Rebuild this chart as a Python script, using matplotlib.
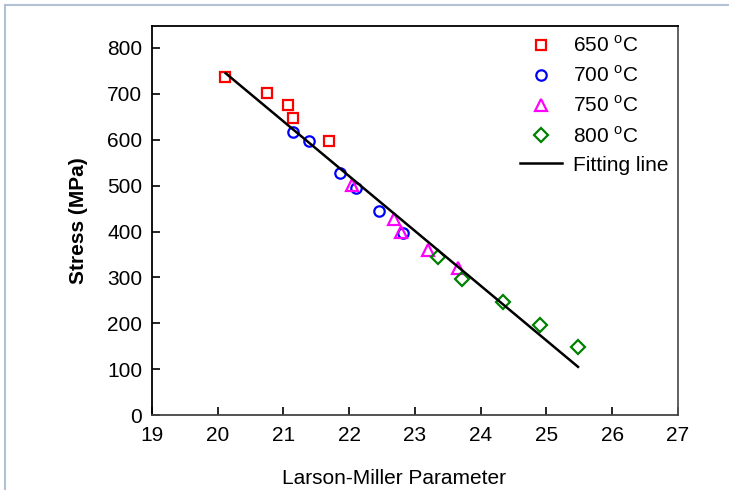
import matplotlib
matplotlib.use("Agg")
from matplotlib import pyplot as plt
from matplotlib.lines import Line2D

plt.rcParams['font.family'] = ['Liberation Sans', 'DejaVu Sans']

# data
x650 = [20.11, 20.75, 21.07, 21.14, 21.69]
y650 = [737, 702, 676, 647, 597]
x700 = [21.15, 21.39, 21.86, 22.10, 22.46, 22.82]
y700 = [617, 597, 527, 495, 445, 397]
x750 = [22.04, 22.68, 22.79, 23.20, 23.66]
y750 = [501, 427, 399, 360, 320]
x800 = [23.35, 23.71, 24.34, 24.90, 25.48]
y800 = [344, 296, 246, 196, 148]
fit_x = [20.12, 25.48]
fit_y = [745, 105]

fig = plt.figure(figsize=(7.29, 4.90), dpi=100)
ax = fig.add_axes([0.2085, 0.153, 0.7215, 0.794])

# faint outer frame of the original screenshot
fig.add_artist(Line2D([5/729, 5/729], [0, 1 - 5/490], transform=fig.transFigure,
                      color='#b4c0d4', lw=1.5))
fig.add_artist(Line2D([5/729, 1], [1 - 5/490, 1 - 5/490], transform=fig.transFigure,
                      color='#b4c0d4', lw=1.5))

ms = 7.5
ax.plot(x650, y650, ls='none', marker='s', mfc='none', mec='red', mew=1.6, ms=ms-0.5,
        label=r'650 $^{\mathregular{o}}$C')
ax.plot(x700, y700, ls='none', marker='o', mfc='none', mec='blue', mew=1.6, ms=ms,
        label=r'700 $^{\mathregular{o}}$C')
ax.plot(x750, y750, ls='none', marker='^', mfc='none', mec='magenta', mew=1.6, ms=ms+0.5,
        label=r'750 $^{\mathregular{o}}$C')
ax.plot(x800, y800, ls='none', marker='D', mfc='none', mec='green', mew=1.6, ms=ms-0.5,
        label=r'800 $^{\mathregular{o}}$C')
ax.plot(fit_x, fit_y, color='black', lw=1.8, label='Fitting line')

ax.set_xlim(19, 27)
ax.set_ylim(0, 848)
ax.set_xticks(range(19, 28))
ax.set_yticks(range(0, 900, 100))
ax.tick_params(direction='in', length=6, width=1.2, labelsize=15)
ax.tick_params(axis='x', pad=8)
ax.tick_params(axis='y', pad=7)
for s in ax.spines.values():
    s.set_linewidth(1.3)
ax.spines['right'].set_color('#555555')
ax.spines['bottom'].set_color('#444444')

ax.set_xlabel('Larson-Miller Parameter', fontsize=15)
ax.xaxis.set_label_coords(0.46, -0.14)
ax.set_ylabel('Stress (MPa)', fontsize=15, fontweight='bold', labelpad=14)

ax.legend(loc='upper right', frameon=False, fontsize=15, handlelength=2.0,
          handletextpad=0.55, labelspacing=0.45, borderaxespad=0.05)

plt.savefig('out.png', dpi=100)
